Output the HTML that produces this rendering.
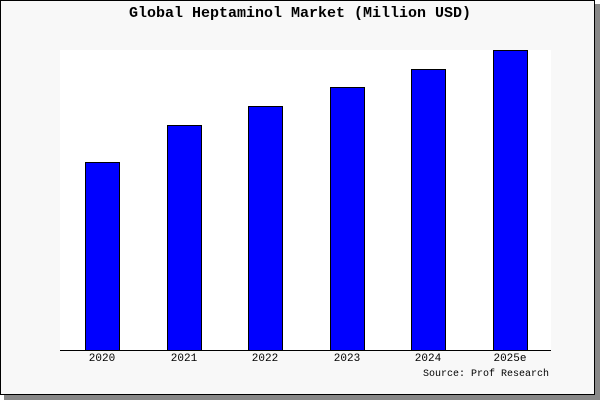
<!DOCTYPE html>
<html><head><style>
body{margin:0;width:600px;height:400px;background:#fff;position:relative;overflow:hidden;font-family:"Liberation Mono","DejaVu Sans Mono",monospace}
.sh{position:absolute;left:4px;top:4px;width:596px;height:396px;background:#888}
.fr{position:absolute;left:0;top:0;width:593px;height:393px;border:1px solid #000;background:#f8f8f8}
.plot{position:absolute;left:60px;top:50px;width:491px;height:300px;background:#fff;border-bottom:1px solid #000}
.bar{position:absolute;background:#00f;border:1px solid #000;box-sizing:border-box;width:35px}
.t{position:absolute;font-size:11px;color:#000}
</style></head><body>
<div class="sh"></div><div class="fr"></div>
<div class="t" style="left:0;width:600px;text-align:center;top:5px;font-size:15px;font-weight:bold">Global Heptaminol Market (Million USD)</div>
<div class="plot"></div>
<div class="bar" style="left:85px;top:162px;height:189px"></div>
<div class="bar" style="left:167px;top:125px;height:226px"></div>
<div class="bar" style="left:248px;top:106px;height:245px"></div>
<div class="bar" style="left:330px;top:87px;height:264px"></div>
<div class="bar" style="left:411px;top:69px;height:282px"></div>
<div class="bar" style="left:493px;top:50px;height:301px"></div>
<div class="t" style="left:82px;top:353px;width:40px;text-align:center">2020</div>
<div class="t" style="left:164px;top:353px;width:40px;text-align:center">2021</div>
<div class="t" style="left:245px;top:353px;width:40px;text-align:center">2022</div>
<div class="t" style="left:327px;top:353px;width:40px;text-align:center">2023</div>
<div class="t" style="left:408px;top:353px;width:40px;text-align:center">2024</div>
<div class="t" style="left:485px;top:353px;width:50px;text-align:center">2025e</div>
<div class="t" style="right:51px;top:369px;font-size:10px">Source: Prof Research</div>
</body></html>
